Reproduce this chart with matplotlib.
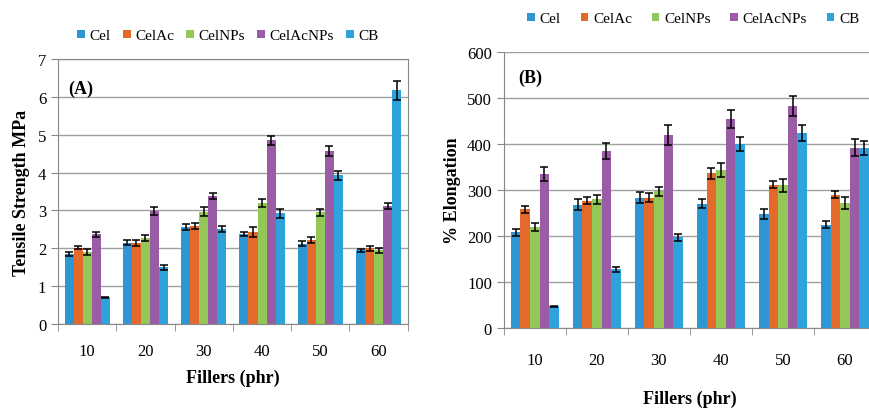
import numpy as np
import matplotlib.pyplot as plt

fillers = ['10', '20', '30', '40', '50', '60']
series = ['Cel', 'CelAc', 'CelNPs', 'CelAcNPs', 'CB']
colors = ['#2E96D3', '#E46A2C', '#93C757', '#9A5CA4', '#2EA2DA']

# tensile strength (MPa), rows = series
ts_cel = [1.85, 2.15, 2.55, 2.38, 2.12, 1.95]
ts_celac = [2.02, 2.15, 2.60, 2.43, 2.23, 2.00]
ts_celnps = [1.90, 2.27, 2.97, 3.20, 2.95, 1.95]
ts_celacnps = [2.37, 2.98, 3.38, 4.85, 4.57, 3.12]
ts_cb = [0.70, 1.50, 2.50, 2.92, 3.93, 6.17]
ts_err_cel = [0.06, 0.06, 0.08, 0.05, 0.06, 0.04]
ts_err_celac = [0.05, 0.08, 0.08, 0.12, 0.08, 0.06]
ts_err_celnps = [0.07, 0.08, 0.12, 0.10, 0.10, 0.07]
ts_err_celacnps = [0.07, 0.10, 0.08, 0.12, 0.12, 0.08]
ts_err_cb = [0.02, 0.07, 0.08, 0.12, 0.12, 0.25]

# elongation (%)
el_cel = [208, 268, 283, 270, 248, 225]
el_celac = [258, 277, 283, 337, 312, 290]
el_celnps = [220, 280, 297, 343, 310, 272]
el_celacnps = [335, 385, 420, 455, 483, 392]
el_cb = [47, 128, 197, 400, 424, 392]
el_err_cel = [8, 12, 12, 10, 10, 8]
el_err_celac = [8, 8, 10, 12, 8, 8]
el_err_celnps = [8, 10, 10, 15, 14, 14]
el_err_celacnps = [16, 18, 22, 20, 22, 18]
el_err_cb = [2, 5, 8, 15, 17, 15]

ts = [ts_cel, ts_celac, ts_celnps, ts_celacnps, ts_cb]
ts_err = [ts_err_cel, ts_err_celac, ts_err_celnps, ts_err_celacnps, ts_err_cb]
el = [el_cel, el_celac, el_celnps, el_celacnps, el_cb]
el_err = [el_err_cel, el_err_celac, el_err_celnps, el_err_celacnps, el_err_cb]

plt.rcParams['font.family'] = ['Liberation Serif', 'DejaVu Serif']

fig = plt.figure(figsize=(8.7, 4.14), dpi=100)
ax1 = fig.add_axes([0.0667, 0.215, 0.402, 0.640])
ax2 = fig.add_axes([0.579, 0.205, 0.428, 0.667])

x = np.arange(len(fillers))
bw = 0.155


def draw(ax, data, err, ymax, ystep, ylabel, tag, tagpos, labelpad_x, tickpad):
    for i in range(len(series)):
        ax.bar(x + (i - 2) * bw, data[i], bw, color=colors[i], label=series[i], zorder=2,
               yerr=err[i], error_kw=dict(ecolor='black', elinewidth=1.1, capsize=3, capthick=1.1, zorder=3))
    ax.set_xlim(-0.5, len(fillers) - 0.5)
    ax.set_ylim(0, ymax)
    ax.set_yticks(np.arange(0, ymax + 1e-9, ystep))
    ax.set_xticks(x)
    ax.set_xticklabels(fillers, fontsize=12)
    ax.set_xticks(np.arange(-0.5, len(fillers)), minor=True)
    ax.tick_params(axis='x', which='major', length=0, pad=tickpad)
    ax.tick_params(axis='x', which='minor', length=5, color='#888888')
    ax.tick_params(axis='y', length=5, color='#888888', labelsize=12)
    ax.yaxis.grid(True, color='#A0A0A0', lw=1, zorder=0)
    for s in ax.spines.values():
        s.set_color('#888888')
    ax.set_ylabel(ylabel, fontsize=13, fontweight='bold')
    ax.set_xlabel('Fillers (phr)', fontsize=13, fontweight='bold', labelpad=labelpad_x)
    ax.text(tagpos[0], tagpos[1], tag, transform=ax.transAxes, fontsize=13, fontweight='bold', va='center')


draw(ax1, ts, ts_err, 7, 1, 'Tensile Strength MPa', '(A)', (0.03, 0.89), 7, 14)
draw(ax2, el, el_err, 600, 100, '% Elongation', '(B)', (0.04, 0.91), 16, 17)
ax1.yaxis.labelpad = 6
ax2.spines['top'].set_visible(False)

h, l = ax1.get_legend_handles_labels()
fig.legend(h, l, loc='center', bbox_to_anchor=(0.262, 0.911), ncol=5, frameon=False, fontsize=11,
           handlelength=0.5, handleheight=0.5, handletextpad=0.3, columnspacing=0.8)
fig.legend(h, l, loc='center', bbox_to_anchor=(0.797, 0.952), ncol=5, frameon=False, fontsize=11,
           handlelength=0.5, handleheight=0.5, handletextpad=0.3, columnspacing=1.3)

fig.savefig('out.png', dpi=100)
